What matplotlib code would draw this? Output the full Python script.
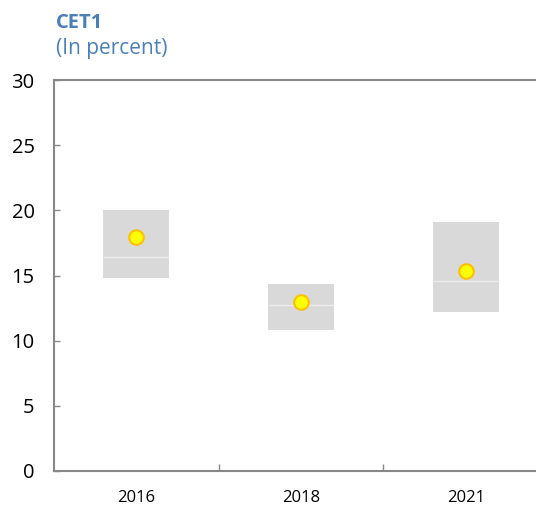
import numpy as np
import matplotlib.pyplot as plt

# data
years = ['2016', '2018', '2021']
box_low = [14.8, 10.8, 12.2]
box_high = [20.0, 14.35, 19.1]
box_mid = [16.4, 12.7, 14.6]
dots = [17.95, 12.95, 15.35]

plt.rcParams['font.family'] = ['Open Sans', 'DejaVu Sans']
plt.rcParams['ytick.direction'] = 'in'
plt.rcParams['xtick.direction'] = 'in'

fig = plt.figure(figsize=(5.36, 5.08), dpi=100)
ax = fig.add_axes([54 / 536, 1 - 471 / 508, 494 / 536, 391 / 508])

x = np.arange(len(years))
lo = np.array(box_low)
hi = np.array(box_high)

ax.bar(x, hi - lo, bottom=lo, width=0.4, color='#d9d9d9', zorder=1)
ax.hlines(box_mid, x - 0.2, x + 0.2, color='#ececec', linewidth=1, zorder=2)
ax.plot(x, dots, linestyle='none', marker='o', markersize=10.5,
        markerfacecolor='#ffff00', markeredgecolor='#ffc000',
        markeredgewidth=1.5, zorder=3)

ax.set_xlim(-0.5, 2.5)
ax.set_ylim(0, 30)
ax.set_yticks([0, 5, 10, 15, 20, 25, 30])
ax.tick_params(axis='y', which='major', direction='in', length=4.5, width=1,
               color='#888888', pad=14, labelsize=14.5)
ax.set_xticks(x)
ax.set_xticklabels(years)
ax.tick_params(axis='x', which='major', length=0, pad=14, labelsize=12)
ax.set_xticks([0.5, 1.5], minor=True)
ax.tick_params(axis='x', which='minor', direction='in', length=5,
               width=1, color='#888888')

for s in ['left', 'bottom', 'top', 'right']:
    ax.spines[s].set_color('#888888')
    ax.spines[s].set_linewidth(1.5)

fig.text(56 / 536, 1 - 13 / 508, 'CET1', color='#4a80b5', fontsize=14.5,
         fontweight='bold', va='top', ha='left')
fig.text(56 / 536, 1 - 38 / 508, '(In percent)', color='#4a80b5',
         fontsize=15, va='top', ha='left')

fig.savefig('out.png', dpi=100)
